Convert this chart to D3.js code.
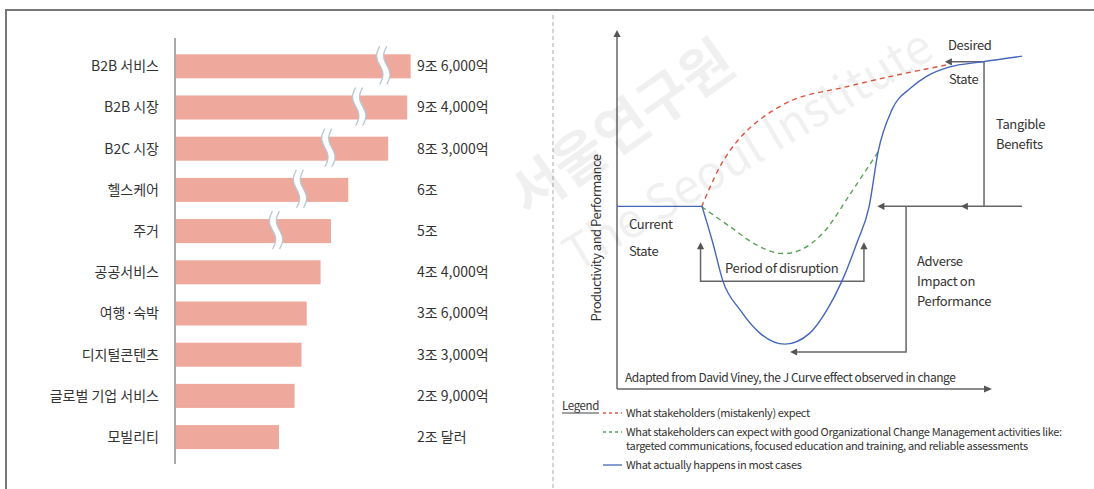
<!DOCTYPE html>
<html>
<head>
<meta charset="utf-8">
<script src="https://cdn.jsdelivr.net/npm/d3@7"></script>
<style>
  body { margin: 0; background: #fff; }
  svg { display: block; }
  text { font-family: "Noto Sans CJK KR", "Noto Sans", sans-serif; fill: #333; }
  .en { letter-spacing: -0.35px; }
</style>
</head>
<body>
<svg id="chart" width="1094" height="489"></svg>
<script>
// ---- Left panel: market size by sector (unit: 조 원) ----
const categories = ["B2B 서비스", "B2B 시장", "B2C 시장", "헬스케어", "주거",
  "공공서비스", "여행·숙박", "디지털콘텐츠", "글로벌 기업 서비스", "모빌리티"];
const values = [9.6, 9.4, 8.3, 6, 5, 4.4, 3.6, 3.3, 2.9, 2.0];
const valueLabels = ["9조 6,000억", "9조 4,000억", "8조 3,000억", "6조", "5조",
  "4조 4,000억", "3조 6,000억", "3조 3,000억", "2조 9,000억", "2조 달러"];
// value at which the axis-break symbol sits on the compressed bars
const breakAt = [8.02, 6.63, 4.85, 3.21, 1.83, null, null, null, null, null];

// ---- Right panel: J-curve of change (time 0-100, performance 0-100) ----
const currentState = [[0, 51.3], [22.8, 51.3]];
const actual = [[22.8, 51.3], [25.7, 41.0], [28.4, 30.3], [33.0, 22.2], [38.3, 15.7],
  [45.0, 12.6], [51.7, 15.7], [56.3, 22.2], [60.3, 30.3], [64.3, 41.0], [67.6, 51.3],
  [70.0, 66.6], [73.7, 78.4], [78.8, 84.6], [83.1, 87.9], [89.0, 90.4], [97.9, 91.9],
  [108.6, 93.5]];
const expected = [[22.7, 51.2], [28.6, 64.3], [35.9, 73.6], [47.2, 81.2], [61.1, 84.8],
  [75.1, 88.2], [88.2, 91.0]];
const managed = [[22.7, 51.2], [30.3, 45.6], [37.5, 40.4], [43.7, 38.1], [49.1, 39.0],
  [55.2, 43.8], [62.9, 55.4], [70.0, 66.6]];
const legendItems = [
  { color: "#e0553f", dash: "3,3", lines: ["What stakeholders (mistakenly) expect"] },
  { color: "#56a356", dash: "3,3", lines: ["What stakeholders can expect with good Organizational Change Management activities like:",
    "targeted communications, focused education and training, and reliable assessments"] },
  { color: "#4466bb", dash: null, lines: ["What actually happens in most cases"] }
];

const svg = d3.select("#chart");
const GRAY = "#666";

// frame and divider
svg.append("path").attr("d", "M6,489V10H1094").attr("fill", "none")
  .attr("stroke", "#777").attr("stroke-width", 2);
svg.append("line").attr("x1", 553).attr("x2", 553).attr("y1", 15).attr("y2", 489)
  .attr("stroke", "#aaa").attr("stroke-dasharray", "4,3");

// ===== Left bar chart =====
const xb = d3.scaleLinear().domain([-4, 10]).range([175, 417.6]);
const yb = d3.scaleBand().domain(categories).range([37.1, 466.3]).padding(0.417);
const left = svg.append("g");

left.selectAll("rect.bar").data(categories).join("rect")
  .attr("class", "bar")
  .attr("x", xb(-4)).attr("y", d => yb(d))
  .attr("width", (d, i) => xb(values[i]) - xb(-4))
  .attr("height", yb.bandwidth())
  .attr("fill", "#eea99c");

// break symbols
const wave = (cx, y0, y1, off) => d3.range(0, 21).map(k => {
  const t = k / 20;
  return [cx + off + 3.2 * Math.sin(t * 2 * Math.PI + Math.PI), y0 + t * (y1 - y0)];
});
categories.forEach((c, i) => {
  if (breakAt[i] == null) return;
  const cx = xb(breakAt[i]);
  const y0 = yb(c) - 8, y1 = yb(c) + yb.bandwidth() + 6;
  const l = wave(cx, y0, y1, -3.5), r = wave(cx, y0, y1, 3.5);
  const area = l.concat(r.slice().reverse());
  left.append("path").attr("d", d3.line()(area) + "Z").attr("fill", "#fff");
  [l, r].forEach(p => left.append("path").attr("d", d3.line().curve(d3.curveBasis)(p))
    .attr("fill", "none").attr("stroke", "#b7c6d4").attr("stroke-width", 1.3));
});

left.append("line").attr("x1", xb(-4)).attr("x2", xb(-4)).attr("y1", 38).attr("y2", 464)
  .attr("stroke", "#aaa").attr("stroke-width", 2);

left.selectAll("text.cat").data(categories).join("text")
  .attr("class", "cat")
  .attr("x", 159).attr("y", d => yb(d) + yb.bandwidth() / 2)
  .attr("dy", "0.35em").attr("text-anchor", "end")
  .style("font-size", "14px").text(d => d);

left.selectAll("text.val").data(valueLabels).join("text")
  .attr("class", "val")
  .attr("x", 417).attr("y", (d, i) => yb(categories[i]) + yb.bandwidth() / 2)
  .attr("dy", "0.35em").style("font-size", "14px").text(d => d);

// ===== Right J-curve chart =====
const x = d3.scaleLinear().domain([0, 100]).range([617, 990]);
const y = d3.scaleLinear().domain([0, 100]).range([389, 33]);
const right = svg.append("g");

function arrowHead(g, px, py, dir) {
  const s = 7, w = 3.6;
  const pts = dir === "left"
    ? [[px, py], [px + s, py - w], [px + s, py + w]]
    : [[px, py], [px - w, py + s], [px + w, py + s]];
  g.append("path").attr("d", d3.line()(pts) + "Z").attr("fill", "#555");
}

// axes
right.append("line").attr("x1", x(0)).attr("x2", x(0)).attr("y1", y(0)).attr("y2", 36)
  .attr("stroke", GRAY).attr("stroke-width", 1.5);
arrowHead(right, x(0), 30, "up");
right.append("line").attr("x1", x(0)).attr("x2", x(100) - 4).attr("y1", y(0)).attr("y2", y(0))
  .attr("stroke", GRAY).attr("stroke-width", 1.5);
right.append("path").attr("d", d3.line()([[x(100) + 2, y(0)], [x(100) - 6, y(0) - 3.6], [x(100) - 6, y(0) + 3.6]]) + "Z")
  .attr("fill", "#555");

// annotation connectors
const conn = (pts) => right.append("path").attr("d", d3.line()(pts.map(p => [x(p[0]), y(p[1])])))
  .attr("fill", "none").attr("stroke", GRAY).attr("stroke-width", 1.5);

conn([[22.4, 39.5], [22.4, 30.3], [66.2, 30.3], [66.2, 39.5]]);
arrowHead(right, x(22.4), y(41.2), "up");
arrowHead(right, x(66.2), y(41.2), "up");
conn([[108.6, 51.3], [71.3, 51.3]]);
arrowHead(right, x(69.8), y(51.3), "left");
arrowHead(right, x(92.2), y(51.3), "left");
conn([[98.4, 51.3], [98.4, 91.9], [89.4, 91.9]]);
arrowHead(right, x(87.9), y(91.9), "left");
conn([[77.5, 51.3], [77.5, 10.4], [48.0, 10.4]]);
arrowHead(right, x(46.4), y(10.4), "left");

const line = d3.line().x(d => x(d[0])).y(d => y(d[1])).curve(d3.curveCatmullRom.alpha(0.5));
const smooth = d3.line().x(d => x(d[0])).y(d => y(d[1])).curve(d3.curveMonotoneX);
right.append("path").attr("d", line(expected)).attr("fill", "none")
  .attr("stroke", "#e0553f").attr("stroke-width", 1.4).attr("stroke-dasharray", "5,4");
right.append("path").attr("d", line(managed)).attr("fill", "none")
  .attr("stroke", "#56a356").attr("stroke-width", 1.4).attr("stroke-dasharray", "5,4");
right.append("path").attr("d", d3.line().x(d => x(d[0])).y(d => y(d[1]))(currentState))
  .attr("fill", "none").attr("stroke", "#4466bb").attr("stroke-width", 1.4);
right.append("path").attr("d", smooth(actual)).attr("fill", "none")
  .attr("stroke", "#4466bb").attr("stroke-width", 1.4);

// labels
const label = (tx, ty, s, size) => right.append("text").attr("class", "en")
  .attr("x", tx).attr("y", ty)
  .attr("dy", "0.35em").style("font-size", (size || 13) + "px").text(s);
label(948, 45, "Desired");
label(949, 79, "State");
label(996, 124, "Tangible");
label(996, 144, "Benefits");
label(629, 224, "Current");
label(629, 251, "State");
label(725, 268, "Period of disruption");
label(917, 261, "Adverse");
label(917, 281, "Impact on");
label(917, 301, "Performance");
label(625, 378, "Adapted from David Viney, the J Curve effect observed in change", 12)
  .style("letter-spacing", "-0.45px");

right.append("text").attr("class", "en").attr("transform", "translate(596,238) rotate(-90)")
  .attr("text-anchor", "middle").attr("dy", "0.35em").style("font-size", "13px")
  .style("letter-spacing", "-0.5px")
  .text("Productivity and Performance");

// legend
const lg = svg.append("g");
lg.append("text").attr("class", "en").attr("x", 562).attr("y", 406).attr("dy", "0.35em")
  .style("font-size", "11.5px").text("Legend");
lg.append("line").attr("x1", 562).attr("x2", 599).attr("y1", 413).attr("y2", 413)
  .attr("stroke", "#444").attr("stroke-width", 1);
const rowY = [413, 432, 465];
legendItems.forEach((it, i) => {
  lg.append("line").attr("x1", 603).attr("x2", 622).attr("y1", rowY[i]).attr("y2", rowY[i])
    .attr("stroke", it.color).attr("stroke-width", 1.3)
    .attr("stroke-dasharray", it.dash);
  it.lines.forEach((s, k) => lg.append("text").attr("class", "en")
    .attr("x", 626).attr("y", rowY[i] + k * 14)
    .attr("dy", "0.35em").style("font-size", "11px").text(s));
});

// publisher watermark
const wm = svg.append("g").attr("pointer-events", "none");
wm.append("text").attr("transform", "translate(622,128) rotate(-35)")
  .attr("text-anchor", "middle").attr("dy", "0.35em")
  .style("font-size", "56px").style("font-weight", "bold")
  .style("fill", "#000").style("fill-opacity", 0.06).text("서울연구원");
wm.append("text").attr("transform", "translate(748,150) rotate(-31)")
  .attr("text-anchor", "middle").attr("dy", "0.35em")
  .style("font-size", "48px")
  .style("fill", "#000").style("fill-opacity", 0.06).text("The Seoul Institute");
</script>
</body>
</html>
